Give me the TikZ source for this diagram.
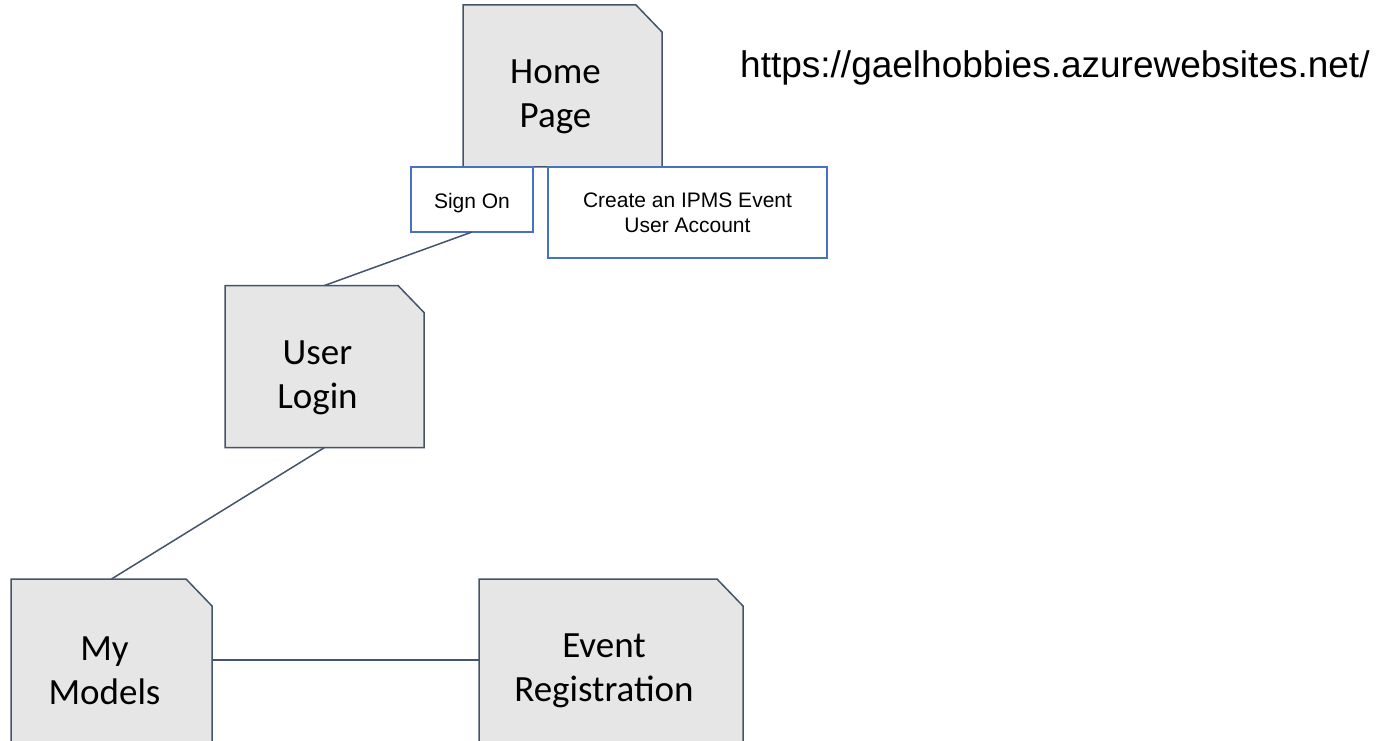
\documentclass[tikz,border=0pt]{standalone}
\usepackage{fontspec}
\newfontfamily\calfont{Carlito}
\newfontfamily\arfont{Liberation Sans}
\definecolor{boxfill}{HTML}{E6E6E6}
\definecolor{boxedge}{HTML}{44546A}
\definecolor{blueedge}{HTML}{4472C4}
\tikzset{
  shapebox/.style={rectangle, inner sep=0pt, outer sep=0pt, minimum width=#1, minimum height=162pt, draw=none},
  boxline/.style={fill=boxfill, draw=boxedge, line width=1.5pt, line join=miter},
  bigtext/.style={font=\calfont\fontsize{37}{44}\selectfont, align=center, inner sep=0pt},
  smallbox/.style={rectangle, inner sep=0pt, outer sep=0pt, draw=blueedge, fill=white, line width=1.5pt, align=center, font=\arfont\fontsize{21}{25}\selectfont},
  conn/.style={draw=boxedge, line width=1.5pt}
}
\newcommand\foldpath[2]{%
  \filldraw[boxline] (#1.north west) -- ([xshift=-26pt]#1.north east) -- ([yshift=-27pt]#1.north east) -- ([yshift=-#2]#1.south east) -- ([yshift=-#2]#1.south west) -- cycle;}
\begin{document}
\begin{tikzpicture}[x=1pt,y=-1pt]
\useasboundingbox (0,0) rectangle (1379,741);
\begin{scope}
\clip (0,0) rectangle (1379,741);
\fill[white] (0,0) rectangle (1379,741);
% shape nodes
\node[shapebox=199pt] (hp) at (562.5,86) {};
\node[shapebox=199pt] (ul) at (324.5,366.5) {};
\node[shapebox=201pt] (mm) at (111.5,660) {};
\node[shapebox=264pt] (er) at (611,660) {};
\foldpath{hp}{0pt}
\foldpath{ul}{0pt}
\foldpath{mm}{6pt}
\foldpath{er}{6pt}
% texts
\node[bigtext] (hpt) at ([xshift=-7pt,yshift=-11pt]hp.center) {Home\\Page};
\node[bigtext] (ult) at ([xshift=-7pt,yshift=-11pt]ul.center) {User\\Login};
\node[bigtext] (mmt) at ([xshift=-7pt,yshift=-11pt]mm.center) {My\\Models};
\node[bigtext] (ert) at ([xshift=-7pt,yshift=-11pt]er.center) {Event\\Registration};
% small boxes
\node[smallbox, minimum width=122pt, minimum height=65pt, text height=21.5pt, text depth=4.5pt] (so) at (472,199.5) {Sign On};
\node[smallbox, minimum width=279pt, minimum height=91pt] (ca) at (687.5,212.5) {Create an IPMS Event\\User Account};
% url
\node[anchor=base west, inner sep=0pt, font=\arfont\fontsize{37}{44}\selectfont] (url) at (740,78) {https://gaelhobbies.azurewebsites.net/};
% connectors
\draw[conn] (so.south) -- (ul.north);
\draw[conn] (ul.south) -- (mm.north);
\draw[conn] (mm.east) -- (er.west);
\end{scope}
\end{tikzpicture}
\end{document}
